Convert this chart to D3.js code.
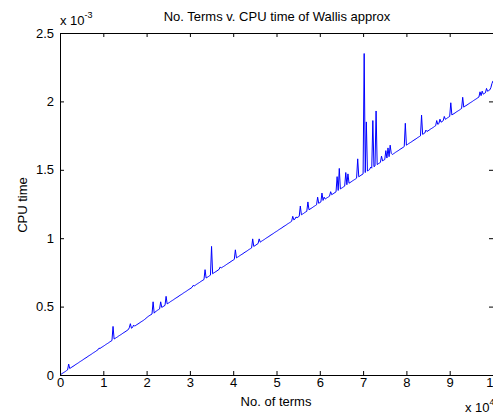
<!DOCTYPE html>
<html>
<head>
<meta charset="utf-8">
<script src="https://cdn.jsdelivr.net/npm/d3@7"></script>
<style>
  body { margin: 0; background: #fff; }
  svg { display: block; font-family: "Liberation Sans", Arial, sans-serif; }
  .axis text { font-size: 13px; fill: #000; }
  .axis line, .axis path { stroke: #000; }
</style>
</head>
<body>
<svg id="chart" width="493" height="413"></svg>
<script>
const svg = d3.select("#chart");

// CPU time (units of 1e-3 s), one sample every 250 terms, 0 .. 100000 terms
const cpuTime = [
  0.000, 0.005, 0.011, 0.016, 0.021, 0.026, 0.032, 0.037, 0.080, 0.047, 0.053, 0.058, 0.063, 0.068, 0.074, 0.079, 0.084, 0.089, 0.095, 0.100,
  0.105, 0.110, 0.116, 0.121, 0.126, 0.131, 0.137, 0.142, 0.147, 0.152, 0.158, 0.163, 0.168, 0.173, 0.179, 0.184, 0.196, 0.194, 0.200, 0.205,
  0.210, 0.215, 0.221, 0.226, 0.231, 0.236, 0.242, 0.247, 0.252, 0.355, 0.263, 0.268, 0.273, 0.278, 0.284, 0.289, 0.294, 0.299, 0.305, 0.310,
  0.315, 0.320, 0.326, 0.331, 0.345, 0.375, 0.342, 0.347, 0.365, 0.357, 0.363, 0.368, 0.373, 0.378, 0.384, 0.389, 0.394, 0.399, 0.405, 0.410,
  0.420, 0.425, 0.431, 0.436, 0.441, 0.446, 0.535, 0.452, 0.462, 0.467, 0.473, 0.478, 0.483, 0.535, 0.494, 0.499, 0.504, 0.509, 0.575, 0.520,
  0.525, 0.530, 0.536, 0.541, 0.546, 0.551, 0.557, 0.562, 0.567, 0.572, 0.578, 0.583, 0.588, 0.593, 0.599, 0.604, 0.609, 0.614, 0.620, 0.625,
  0.630, 0.635, 0.641, 0.655, 0.651, 0.656, 0.662, 0.667, 0.672, 0.677, 0.683, 0.688, 0.693, 0.698, 0.770, 0.709, 0.714, 0.719, 0.725, 0.730,
  0.940, 0.740, 0.746, 0.751, 0.756, 0.761, 0.767, 0.772, 0.790, 0.782, 0.788, 0.793, 0.798, 0.803, 0.809, 0.814, 0.819, 0.824, 0.830, 0.835,
  0.840, 0.845, 0.915, 0.856, 0.861, 0.866, 0.872, 0.877, 0.882, 0.887, 0.893, 0.898, 0.903, 0.908, 0.914, 0.919, 0.924, 0.929, 0.995, 0.940,
  0.945, 0.950, 0.956, 0.961, 0.995, 0.971, 0.977, 0.982, 0.987, 0.992, 0.998, 1.003, 1.008, 1.013, 1.019, 1.024, 1.029, 1.034, 1.040, 1.045,
  1.050, 1.055, 1.061, 1.066, 1.071, 1.076, 1.082, 1.087, 1.092, 1.097, 1.103, 1.108, 1.113, 1.118, 1.124, 1.160, 1.134, 1.139, 1.155, 1.150,
  1.155, 1.160, 1.235, 1.171, 1.176, 1.181, 1.187, 1.192, 1.197, 1.265, 1.208, 1.213, 1.218, 1.223, 1.229, 1.234, 1.239, 1.244, 1.300, 1.255,
  1.260, 1.265, 1.330, 1.276, 1.300, 1.286, 1.292, 1.297, 1.302, 1.307, 1.340, 1.318, 1.323, 1.328, 1.334, 1.339, 1.450, 1.349, 1.510, 1.360,
  1.365, 1.370, 1.376, 1.381, 1.480, 1.391, 1.470, 1.402, 1.407, 1.412, 1.418, 1.423, 1.428, 1.433, 1.439, 1.580, 1.449, 1.454, 1.460, 1.465,
  1.470, 2.350, 1.480, 1.850, 1.491, 1.496, 1.502, 1.520, 1.512, 1.860, 1.523, 1.528, 1.930, 1.538, 1.544, 1.549, 1.554, 1.600, 1.565, 1.570,
  1.575, 1.640, 1.586, 1.660, 1.596, 1.680, 1.620, 1.612, 1.617, 1.622, 1.628, 1.633, 1.638, 1.643, 1.649, 1.654, 1.659, 1.664, 1.670, 1.840,
  1.680, 1.685, 1.691, 1.696, 1.701, 1.706, 1.712, 1.717, 1.722, 1.727, 1.733, 1.738, 1.743, 1.748, 1.900, 1.759, 1.764, 1.769, 1.790, 1.780,
  1.785, 1.790, 1.796, 1.801, 1.806, 1.811, 1.817, 1.822, 1.860, 1.832, 1.838, 1.870, 1.848, 1.853, 1.859, 1.890, 1.869, 1.874, 1.880, 1.885,
  1.890, 1.990, 1.901, 1.906, 1.911, 1.916, 1.922, 1.927, 1.932, 1.937, 1.943, 1.948, 2.030, 1.958, 1.964, 1.969, 1.974, 1.979, 1.985, 1.990,
  1.995, 2.000, 2.006, 2.011, 2.016, 2.021, 2.027, 2.032, 2.070, 2.042, 2.075, 2.053, 2.058, 2.063, 2.095, 2.074, 2.079, 2.084, 2.100, 2.130,
  2.150
];
const STEP = 250; // terms between samples
const xTicks = [0, 1, 2, 3, 4, 5, 6, 7, 8, 9, 10];   // x 10^4
const yTicks = [0, 0.5, 1, 1.5, 2, 2.5];              // x 10^-3

const mLeft = 60, mRight = 493, mTop = 33, mBottom = 375;
const xscale = d3.scaleLinear().domain([0, 100000]).range([mLeft, mRight]);
const yscale = d3.scaleLinear().domain([0, 2.5]).range([mBottom, mTop]);

const data = cpuTime.map((v, i) => ({ terms: i * STEP, t: v }));

// plot line
svg.append("path")
    .datum(data)
    .attr("fill", "none")
    .attr("stroke", "#0000ff")
    .attr("stroke-width", 1)
    .attr("d", d3.line().x(d => xscale(d.terms)).y(d => yscale(d.t)));

// axes, MATLAB style ticks pointing inwards
const xt = xTicks.map(d => d * 1e4);
svg.append("g").attr("class", "axis")
    .attr("transform", `translate(0,${mBottom})`)
    .call(d3.axisBottom(xscale).tickValues(xt).tickFormat(d => d / 1e4)
        .tickSizeInner(-4).tickSizeOuter(0).tickPadding(3));
svg.append("g").attr("class", "axis")
    .attr("transform", `translate(0,${mTop})`)
    .call(d3.axisTop(xscale).tickValues(xt).tickFormat("")
        .tickSizeInner(-4).tickSizeOuter(0));
svg.append("g").attr("class", "axis")
    .attr("transform", `translate(${mLeft},0)`)
    .call(d3.axisLeft(yscale).tickValues(yTicks).tickFormat(d => d)
        .tickSizeInner(-4).tickSizeOuter(0).tickPadding(6));
svg.append("g").attr("class", "axis")
    .attr("transform", `translate(${mRight},0)`)
    .call(d3.axisRight(yscale).tickValues(yTicks).tickFormat("")
        .tickSizeInner(-4).tickSizeOuter(0));
svg.selectAll(".axis .domain").attr("stroke-width", 1);

// title and labels
svg.append("text")
    .attr("x", 277).attr("y", 21)
    .attr("text-anchor", "middle")
    .style("font-size", "13px")
    .text("No. Terms v. CPU time of Wallis approx");

svg.append("text")
    .attr("x", 276).attr("y", 406)
    .attr("text-anchor", "middle")
    .style("font-size", "13px")
    .text("No. of terms");

svg.append("text")
    .attr("transform", "translate(27,205) rotate(-90)")
    .attr("text-anchor", "middle")
    .style("font-size", "13px")
    .text("CPU time");

// exponent labels
const ex1 = svg.append("text").attr("x", 60).attr("y", 25).style("font-size", "13px");
ex1.append("tspan").text("x 10");
ex1.append("tspan").attr("dy", -7).style("font-size", "9px").text("-3");

const ex2 = svg.append("text").attr("x", 465).attr("y", 412).style("font-size", "13px");
ex2.append("tspan").text("x 10");
ex2.append("tspan").attr("dy", -7).style("font-size", "9px").text("4");
</script>
</body>
</html>
